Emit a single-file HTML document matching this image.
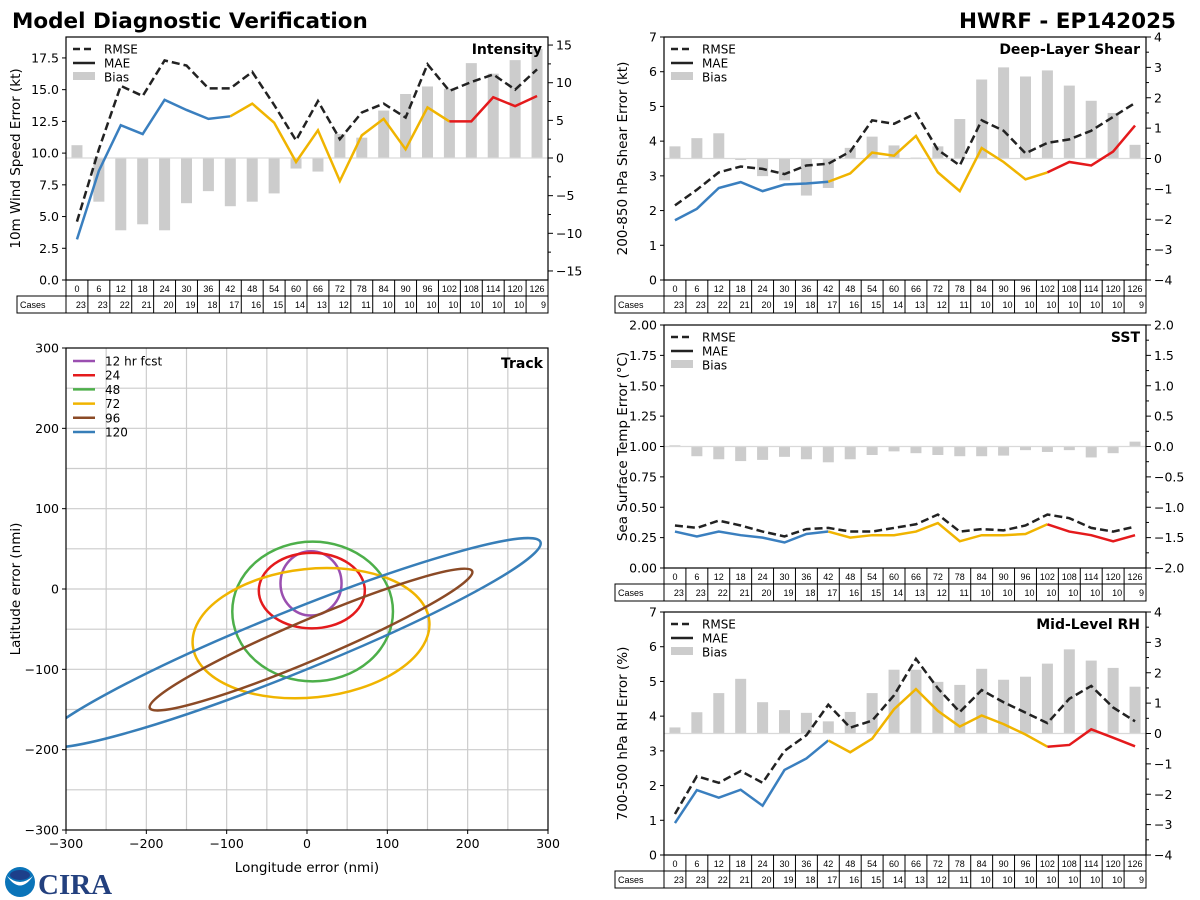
<!DOCTYPE html>
<html><head><meta charset="utf-8"><style>
html,body{margin:0;padding:0;background:#fff;}
svg{display:block;font-family:"DejaVu Sans","Liberation Sans",sans-serif;}
</style></head><body>
<svg id="fig" width="1200" height="900" viewBox="0 0 1200 900" xmlns="http://www.w3.org/2000/svg">
<text x="12" y="28" font-size="21.5" font-weight="bold">Model Diagnostic Verification</text>
<text x="1176" y="28" font-size="21.5" font-weight="bold" text-anchor="end">HWRF - EP142025</text>
<g>
<circle cx="20" cy="882" r="15" fill="#0a74b9"/>
<path d="M7,876 Q20,895 33,876 Q20,888 7,876Z" fill="#fff"/>
<ellipse cx="20" cy="875" rx="10" ry="5" fill="#1d3f8a"/>
</g>
<text x="38" y="894" font-size="29" font-weight="bold" fill="#23407e" font-family="Liberation Serif,serif">CIRA</text>
</svg>
<script>
const NS='http://www.w3.org/2000/svg';
const svg=document.getElementById('fig');
const hours=[0,6,12,18,24,30,36,42,48,54,60,66,72,78,84,90,96,102,108,114,120,126];
const cases=[23,23,22,21,20,19,18,17,16,15,14,13,12,11,10,10,10,10,10,10,10,9];
const intRmse=[4.6,10.3,15.3,14.5,17.3,16.9,15.1,15.1,16.4,13.8,11.0,14.1,11.1,13.2,13.9,12.8,17.0,14.9,15.6,16.2,15.0,16.6];
const intMae=[3.2,8.6,12.2,11.5,14.2,13.4,12.7,12.9,13.9,12.4,9.3,11.8,7.8,11.4,12.7,10.3,13.6,12.5,12.5,14.4,13.7,14.5];
const intBias=[1.7,-5.8,-9.6,-8.8,-9.6,-6.0,-4.4,-6.4,-5.8,-4.7,-1.4,-1.8,3.2,2.7,6.3,8.5,9.5,9.2,12.6,11.2,13.0,14.5];
const shrRmse=[2.15,2.6,3.1,3.27,3.2,3.05,3.3,3.35,3.7,4.6,4.5,4.8,3.75,3.3,4.6,4.3,3.65,3.95,4.05,4.3,4.7,5.1];
const shrMae=[1.72,2.05,2.65,2.82,2.56,2.75,2.78,2.83,3.07,3.67,3.58,4.15,3.1,2.56,3.8,3.4,2.9,3.1,3.4,3.3,3.7,4.45];
const shrBias=[0.4,0.67,0.83,-0.05,-0.58,-0.72,-1.22,-0.97,0.35,0.72,0.43,0.03,0.4,1.3,2.6,3.0,2.7,2.9,2.4,1.9,1.5,0.45];
const sstRmse=[0.35,0.33,0.39,0.35,0.30,0.26,0.32,0.33,0.30,0.30,0.33,0.36,0.44,0.30,0.32,0.31,0.35,0.44,0.41,0.33,0.30,0.34];
const sstMae=[0.30,0.26,0.30,0.27,0.25,0.21,0.28,0.30,0.25,0.27,0.27,0.30,0.37,0.22,0.27,0.27,0.28,0.36,0.30,0.27,0.22,0.27];
const sstBias=[0.02,-0.16,-0.21,-0.24,-0.22,-0.17,-0.21,-0.26,-0.21,-0.14,-0.08,-0.11,-0.14,-0.16,-0.16,-0.15,-0.06,-0.09,-0.06,-0.18,-0.11,0.08];
const rhRmse=[1.18,2.27,2.08,2.42,2.08,3.0,3.45,4.33,3.67,3.87,4.6,5.65,4.8,4.12,4.75,4.4,4.1,3.8,4.5,4.87,4.25,3.85];
const rhMae=[0.92,1.87,1.65,1.88,1.42,2.45,2.78,3.3,2.96,3.35,4.2,4.78,4.15,3.7,4.02,3.77,3.47,3.12,3.17,3.62,3.38,3.13];
const rhBias=[0.2,0.7,1.33,1.8,1.03,0.77,0.68,0.4,0.71,1.33,2.1,2.1,1.7,1.6,2.13,1.77,1.87,2.3,2.77,2.4,2.16,1.54];
// track ellipses: center x, center y, semi-major, semi-minor, angle(deg)
const trkLabels=['12 hr fcst','24','48','72','96','120'];
const trkCx=[5,6,7,5,5,-20];
const trkCy=[7,-2,-28,-55,-63,-67];
const trkA=[38,66,100,148,218,335];
const trkB=[40,47,87,80,25,38];
const trkAng=[0,0,0,6,23,22];
const trkColors=['#9a4fb0','#e41a1c','#4daf4a','#f0b400','#8b4a26','#377eb8'];

function el(tag,attrs,parent){const e=document.createElementNS(NS,tag);for(const k in attrs)e.setAttribute(k,attrs[k]);(parent||svg).appendChild(e);return e;}
function txt(x,y,s,attrs,parent){const t=el('text',Object.assign({x:x,y:y},attrs||{}),parent);t.textContent=s;return t;}
function fmt(v,d){const s=Math.abs(v).toFixed(d);return (v<-1e-9?'\u2212':'')+s;}

function panel(cfg){
  const g=el('g',{});
  
  
  const L=cfg.L,R=cfg.R,T=cfg.T,B=cfg.B,n=hours.length,cw=(R-L)/n;
  const xs=i=>L+(i+0.5)*cw;
  const yl=v=>B-(v-cfg.lmin)/(cfg.lmax-cfg.lmin)*(B-T);
  const yr=v=>B-(v-cfg.rmin)/(cfg.rmax-cfg.rmin)*(B-T);
  cfg.bias.forEach((v,i)=>{
    const y0=yr(0),y1=yr(v);
    const r=el('rect',{x:xs(i)-5.5,y:Math.min(y0,y1),width:11,height:Math.abs(y1-y0),fill:'#cccccc'},g);
    
    
  });
  const zl=el('line',{x1:L,x2:R,y1:yr(0),y2:yr(0),stroke:'#d9d9d9','stroke-width':1.2},g);
  
  
  const rp=el('polyline',{points:cfg.rmse.map((v,i)=>xs(i)+','+yl(v)).join(' '),fill:'none',stroke:'#222','stroke-width':2.5,'stroke-dasharray':'8,4'},g);
  
  
  const segs=[[0,7,'#3a7fbf'],[7,17,'#f0b400'],[17,21,'#e41a1c']];
  segs.forEach(s=>{
    const pts=[];for(let i=s[0];i<=s[1];i++)pts.push(xs(i)+','+yl(cfg.mae[i]));
    const m=el('polyline',{points:pts.join(' '),fill:'none',stroke:s[2],'stroke-width':2.5},g);
    
    
  });
  el('rect',{x:L,y:T,width:R-L,height:B-T,fill:'none',stroke:'#000','stroke-width':1.2},g);
  for(let v=cfg.lmin;v<=cfg.lmax+1e-9;v+=cfg.lstep){
    const y=yl(v);el('line',{x1:L-4,x2:L,y1:y,y2:y,stroke:'#000'},g);
    const t=txt(L-7,y+4.5,fmt(v,cfg.ld),{'font-size':12.5,'text-anchor':'end'},g);
    
    
  }
  const half=cfg.rstep/2;
  const start=Math.ceil(cfg.rmin/half-1e-9)*half;
  for(let v=start;v<=cfg.rmax+1e-9;v+=half){
    const y=yr(v);const q=v/cfg.rstep;const major=Math.abs(q-Math.round(q))<1e-6;
    el('line',{x1:R,x2:R+(major?5:3),y1:y,y2:y,stroke:'#000'},g);
    if(major){const t=txt(R+8,y+4.5,fmt(v,cfg.rd),{'font-size':12.5},g);
      
      }
  }
  const yt=txt(0,0,cfg.ylabel,{'font-size':13.5,'text-anchor':'middle',transform:'translate('+cfg.ylx+','+((T+B)/2)+') rotate(-90)'},g);
  
  
  const pt=txt(R-6,T+17,cfg.title,{'font-size':14,'font-weight':'bold','text-anchor':'end'},g);
  
  
  const lg=el('g',{},g);
  
  
  el('line',{x1:L+7,x2:L+29,y1:T+12,y2:T+12,stroke:'#222','stroke-width':2.5,'stroke-dasharray':'7,4'},lg);
  el('line',{x1:L+7,x2:L+29,y1:T+26,y2:T+26,stroke:'#222','stroke-width':2.5},lg);
  el('rect',{x:L+7,y:T+35,width:22,height:8,fill:'#cccccc'},lg);
  txt(L+38,T+16.5,'RMSE',{'font-size':12},lg);
  txt(L+38,T+30.5,'MAE',{'font-size':12},lg);
  txt(L+38,T+44.5,'Bias',{'font-size':12},lg);
  const tb=el('g',{'font-family':'"Liberation Sans Narrow","Liberation Sans",sans-serif'},g);
  
  
  const r1=B,r2=B+16,r3=B+33;
  el('rect',{x:L,y:r1,width:R-L,height:16,fill:'none',stroke:'#000'},tb);
  el('rect',{x:L-49,y:r2,width:R-L+49,height:17,fill:'none',stroke:'#000'},tb);
  el('line',{x1:L,x2:L,y1:r2,y2:r3,stroke:'#000'},tb);
  txt(L-46,r2+12,'Cases',{'font-size':9},tb);
  hours.forEach((h,i)=>{
    const x0=L+i*cw;
    if(i>0){el('line',{x1:x0,x2:x0,y1:r1,y2:r3,stroke:'#000'},tb);}
    txt(x0+cw/2,r1+12,String(h),{'font-size':9,'text-anchor':'middle'},tb);
    txt(x0+cw-2,r2+12,String(cases[i]),{'font-size':9,'text-anchor':'end'},tb);
  });
}
panel({name:'intensity',L:66,R:548,T:37,B:280,lmin:0,lmax:19.15,lstep:2.5,ld:1,rmin:-16.2,rmax:16.07,rstep:5,rd:0,
  rmse:intRmse,mae:intMae,bias:intBias,ylabel:'10m Wind Speed Error (kt)',ylx:20,title:'Intensity'});
panel({name:'shear',L:664,R:1146,T:37,B:280,lmin:0,lmax:7,lstep:1,ld:0,rmin:-4,rmax:4,rstep:1,rd:0,
  rmse:shrRmse,mae:shrMae,bias:shrBias,ylabel:'200-850 hPa Shear Error (kt)',ylx:627,title:'Deep-Layer Shear'});
panel({name:'sst',L:664,R:1146,T:325,B:568,lmin:0,lmax:2,lstep:0.25,ld:2,rmin:-2,rmax:2,rstep:0.5,rd:1,
  rmse:sstRmse,mae:sstMae,bias:sstBias,ylabel:'Sea Surface Temp Error (\u00B0C)',ylx:627,title:'SST'});
panel({name:'rh',L:664,R:1146,T:612,B:855,lmin:0,lmax:7,lstep:1,ld:0,rmin:-4,rmax:4,rstep:1,rd:0,
  rmse:rhRmse,mae:rhMae,bias:rhBias,ylabel:'700-500 hPa RH Error (%)',ylx:627,title:'Mid-Level RH'});

(function(){
  const L=66,R=548,T=348,B=830;
  const sx=v=>L+(v+300)/600*(R-L), sy=v=>B-(v+300)/600*(B-T);
  const g=el('g',{});
  
  
  const defs=el('defs',{},g);
  const cp=el('clipPath',{id:'trkclip'},defs);
  el('rect',{x:L,y:T,width:R-L,height:B-T},cp);
  for(let v=-250;v<=250;v+=50){
    el('line',{x1:sx(v),x2:sx(v),y1:T,y2:B,stroke:'#cccccc','stroke-width':1.2},g);
    el('line',{x1:L,x2:R,y1:sy(v),y2:sy(v),stroke:'#cccccc','stroke-width':1.2},g);
  }
  const eg=el('g',{'clip-path':'url(#trkclip)'},g);
  const k=(R-L)/600;
  trkLabels.forEach((lab,i)=>{
    const e=el('ellipse',{cx:sx(trkCx[i]),cy:sy(trkCy[i]),rx:trkA[i]*k,ry:trkB[i]*k,fill:'none',stroke:trkColors[i],'stroke-width':2.5,
      transform:'rotate('+(-trkAng[i])+' '+sx(trkCx[i])+' '+sy(trkCy[i])+')'},eg);
    
    
  });
  el('rect',{x:L,y:T,width:R-L,height:B-T,fill:'none',stroke:'#000','stroke-width':1.2},g);
  for(let v=-300;v<=300;v+=100){
    el('line',{x1:sx(v),x2:sx(v),y1:B,y2:B+4,stroke:'#000'},g);
    el('line',{x1:L-4,x2:L,y1:sy(v),y2:sy(v),stroke:'#000'},g);
    const a=txt(sx(v),B+18,fmt(v,0),{'font-size':12.5,'text-anchor':'middle'},g);
    
    
    const b=txt(L-7,sy(v)+4.5,fmt(v,0),{'font-size':12.5,'text-anchor':'end'},g);
    
    
  }
  const xt=txt((L+R)/2,872,'Longitude error (nmi)',{'font-size':13.5,'text-anchor':'middle'},g);
  
  
  const yt=txt(0,0,'Latitude error (nmi)',{'font-size':13.5,'text-anchor':'middle',transform:'translate(20,589) rotate(-90)'},g);
  
  
  const tt=txt(R-5,T+20,'Track',{'font-size':14,'font-weight':'bold','text-anchor':'end'},g);
  
  
  const lg=el('g',{},g);
  
  
  trkLabels.forEach((lab,i)=>{
    const y=T+13+i*14.2;
    el('line',{x1:L+7,x2:L+29,y1:y,y2:y,stroke:trkColors[i],'stroke-width':2.5},lg);
    txt(L+39,y+4.5,lab,{'font-size':12},lg);
  });
})();
</script>
</body></html>
